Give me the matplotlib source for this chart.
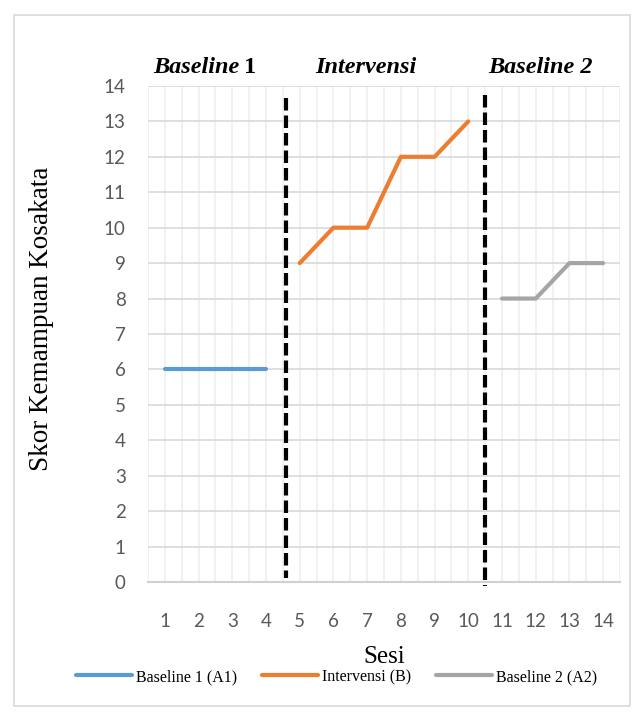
import matplotlib.pyplot as plt
from matplotlib.patches import Rectangle

# skor per sesi untuk tiap fase
sesi_a1 = [1, 2, 3, 4]
skor_a1 = [6, 6, 6, 6]
sesi_b = [5, 6, 7, 8, 9, 10]
skor_b = [9, 10, 10, 12, 12, 13]
sesi_a2 = [11, 12, 13, 14]
skor_a2 = [8, 8, 9, 9]

batas_fase = [4.6, 10.5]
label_seri = ['Baseline 1 (A1)', 'Intervensi (B)', 'Baseline 2 (A2)']

serif = 'Liberation Serif'
sans = 'Lato'
abu = '#595959'

fig = plt.figure(figsize=(6.38, 7.14), dpi=100)
fig.patches.append(Rectangle((14 / 638, 1 - 706 / 714), 616 / 638, 691 / 714,
                             transform=fig.transFigure, fill=False,
                             edgecolor='#d9d9d9', linewidth=1.2))
ax = fig.add_axes([0.232, 0.1849, 0.7398, 0.6947])

ax.set_xlim(0.5, 14.5)
ax.set_ylim(0, 14)
ax.set_xticks(range(1, 15))
ax.set_yticks(range(0, 15))

for x in [i * 0.5 + 0.5 for i in range(29)]:
    ax.axvline(x, color='#efefef', linewidth=1.2, zorder=0)
for y in range(1, 15):
    ax.axhline(y, color='#d9d9d9', linewidth=1.2, zorder=0)

for s in ['top', 'right', 'left']:
    ax.spines[s].set_visible(False)
ax.spines['bottom'].set_color('#d0d0d0')
ax.spines['bottom'].set_linewidth(1.5)
ax.tick_params(which='both', length=0)
ax.tick_params(axis='x', pad=22, labelsize=13.5, labelcolor=abu)
ax.tick_params(axis='y', pad=16, labelsize=13.5, labelcolor=abu)
for lab in ax.get_xticklabels() + ax.get_yticklabels():
    lab.set_family(sans)

garis = []
for sesi, skor, warna in [(sesi_a1, skor_a1, '#5b9bd5'),
                          (sesi_b, skor_b, '#ed7d31'),
                          (sesi_a2, skor_a2, '#a5a5a5')]:
    l, = ax.plot(sesi, skor, color=warna, linewidth=3, solid_capstyle='round',
                 solid_joinstyle='round', zorder=3)
    garis.append(l)

# garis batas antar fase
ax.plot([batas_fase[0]] * 2, [13.65, 0.1], color='black', linewidth=3,
        dashes=(3.0, 1.2), zorder=4, clip_on=False)
ax.plot([batas_fase[1]] * 2, [13.75, -0.1], color='black', linewidth=3,
        dashes=(3.0, 1.2), zorder=4, clip_on=False)

# judul fase di atas grafik
gaya = dict(va='center', family=serif, fontsize=17.5, fontweight='bold')
t1 = ax.text(1.94, 14.52, 'Baseline', ha='center', style='italic', **gaya)
ax.annotate('1', xy=(1, 0.5), xycoords=t1, xytext=(3, 0),
            textcoords='offset points', ha='left', **gaya)
ax.text(6.97, 14.52, 'Intervensi', ha='center', style='italic', **gaya)
ax.text(12.13, 14.52, 'Baseline 2', ha='center', style='italic', **gaya)

ax.set_xlabel('Sesi', family=serif, fontsize=18, labelpad=12)
ax.set_ylabel('Skor Kemampuan Kosakata', family=serif, fontsize=19.5)
ax.yaxis.set_label_coords(-0.199, 0.53)

fig.legend(garis, label_seri, loc='center', bbox_to_anchor=(0.527, 1 - 677 / 714),
           ncol=3, frameon=False, prop={'family': serif, 'size': 11.5},
           handlelength=3.5, handletextpad=0.25, columnspacing=1.56)

fig.savefig('out.png', dpi=100)
